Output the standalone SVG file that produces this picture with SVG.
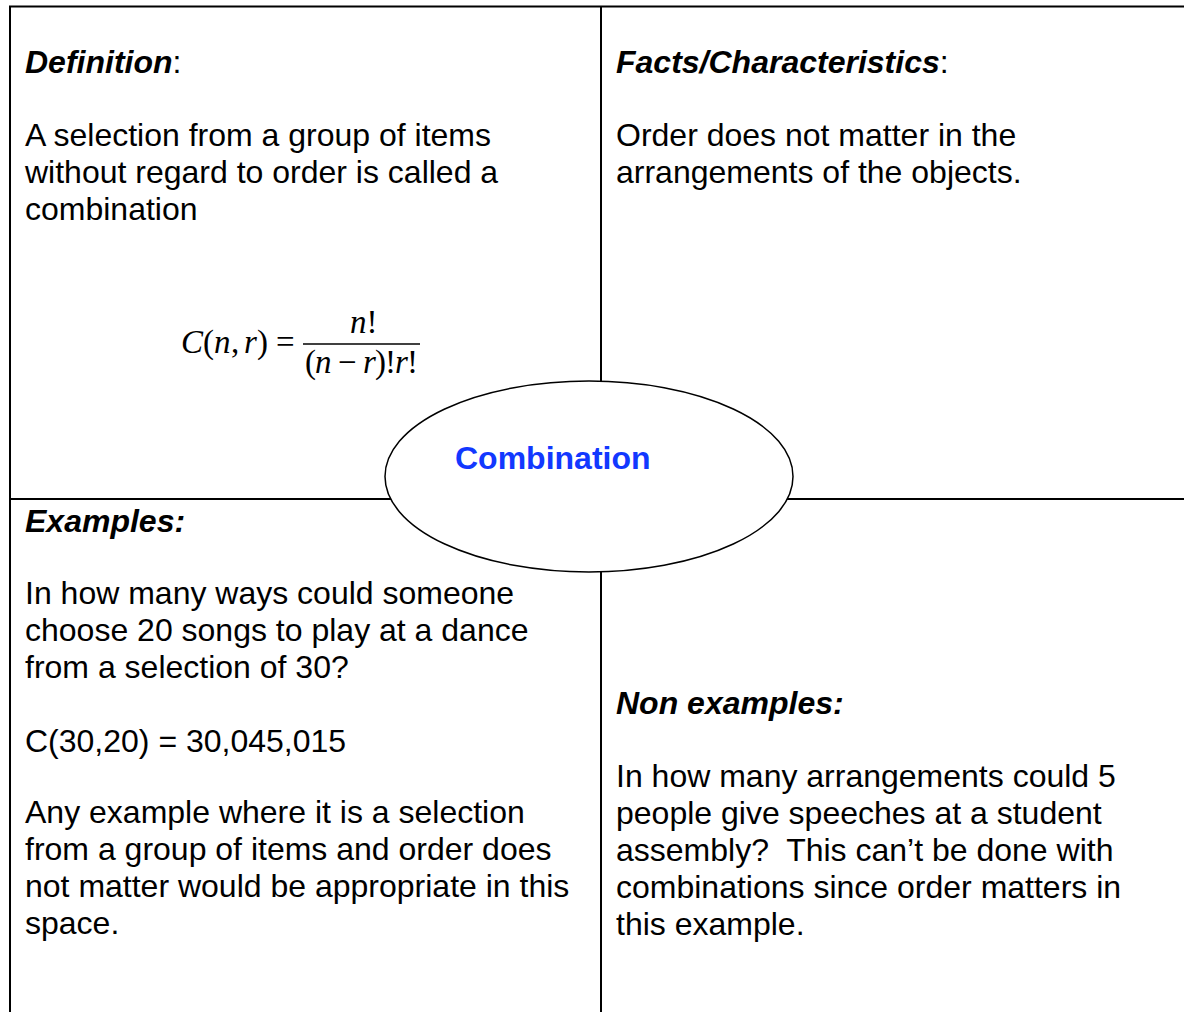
<svg xmlns="http://www.w3.org/2000/svg" width="1184" height="1012" viewBox="0 0 1184 1012">
<style>
.t{font-family:"Liberation Sans",Arial,sans-serif;font-size:32px;fill:#000}
.h{font-weight:bold;font-style:italic}
.m{font-family:"Liberation Serif","Times New Roman",serif;font-size:33px;fill:#000}
.i{font-style:italic}
.ln{stroke:#000;stroke-width:2;fill:none}
</style>
<rect width="1184" height="1012" fill="#fff"/>
<g id="grid">
<line class="ln" x1="9" y1="6.5" x2="1184" y2="6.5"/>
<line class="ln" x1="10" y1="6" x2="10" y2="1012"/>
<line class="ln" x1="601" y1="6" x2="601" y2="1012"/>
<line class="ln" x1="9" y1="499" x2="1184" y2="499"/>
</g>
<g id="definition">
<text class="t" x="25" y="73"><tspan class="h">Definition</tspan>:</text>
<text class="t"><tspan x="25" y="146">A selection from a group of items</tspan><tspan x="25" y="183">without regard to order is called a</tspan><tspan x="25" y="220">combination</tspan></text>
<text class="m" y="353"><tspan x="181" class="i">C</tspan><tspan x="203">(</tspan><tspan x="214" class="i">n</tspan><tspan x="231">,</tspan><tspan x="244" class="i">r</tspan><tspan x="257">)</tspan><tspan x="276">=</tspan></text>
<text class="m" x="350" y="333"><tspan class="i">n</tspan>!</text>
<line x1="303" y1="344" x2="420" y2="344" stroke="#000" stroke-width="1.3"/>
<text class="m" x="305" y="373" textLength="113" lengthAdjust="spacing">(<tspan class="i">n</tspan> − <tspan class="i">r</tspan>)!<tspan class="i">r</tspan>!</text>
</g>
<g id="facts">
<text class="t" x="616" y="73"><tspan class="h">Facts/Characteristics</tspan>:</text>
<text class="t"><tspan x="616" y="146">Order does not matter in the</tspan><tspan x="616" y="183">arrangements of the objects.</tspan></text>
</g>
<g id="examples">
<text class="t h" x="25" y="532">Examples:</text>
<text class="t"><tspan x="25" y="604">In how many ways could someone</tspan><tspan x="25" y="641">choose 20 songs to play at a dance</tspan><tspan x="25" y="678">from a selection of 30?</tspan><tspan x="25" y="752">C(30,20) = 30,045,015</tspan><tspan x="25" y="823">Any example where it is a selection</tspan><tspan x="25" y="860">from a group of items and order does</tspan><tspan x="25" y="897">not matter would be appropriate in this</tspan><tspan x="25" y="934">space.</tspan></text>
</g>
<g id="nonexamples">
<text class="t h" x="616" y="714">Non examples:</text>
<text class="t"><tspan x="616" y="787">In how many arrangements could 5</tspan><tspan x="616" y="824">people give speeches at a student</tspan><tspan x="616" y="861">assembly?&#160; This can’t be done with</tspan><tspan x="616" y="898">combinations since order matters in</tspan><tspan x="616" y="935">this example.</tspan></text>
</g>
<g id="center">
<ellipse cx="589" cy="476.5" rx="204" ry="95.5" fill="#fff" stroke="#000" stroke-width="1.5"/>
<text class="t" x="455" y="469" style="font-weight:bold;fill:#1238ff">Combination</text>
</g>
</svg>
